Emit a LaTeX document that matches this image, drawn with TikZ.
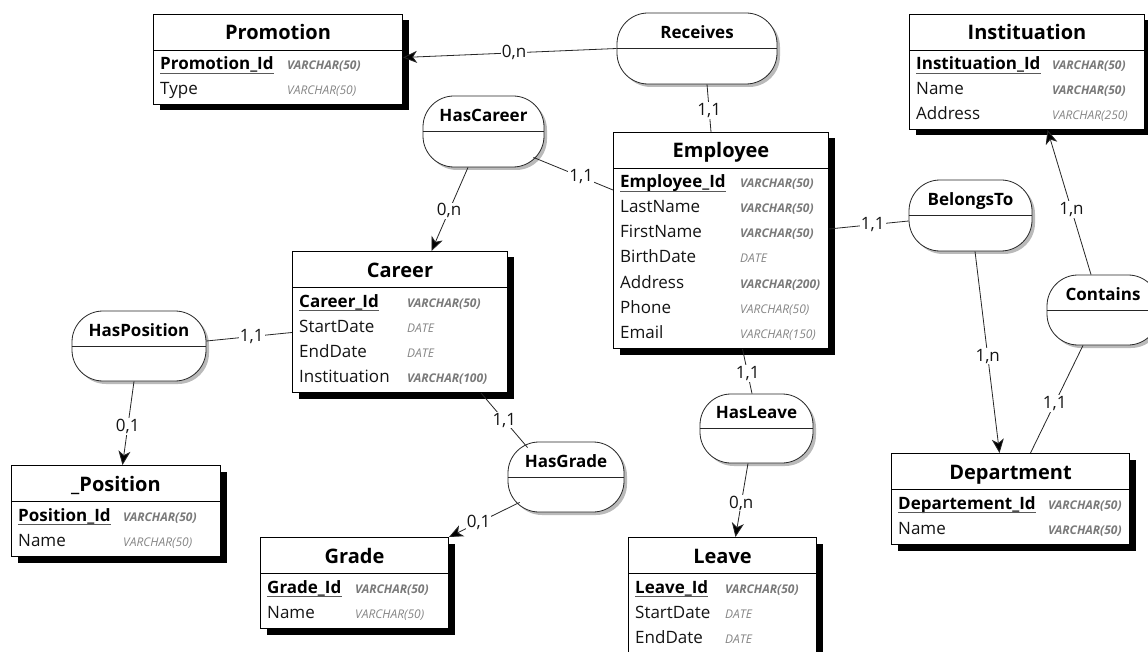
\documentclass[tikz,border=0pt]{standalone}
\usepackage{fontspec}
\setmainfont{Open Sans}
\usetikzlibrary{shadows,arrows.meta,calc}

\tikzset{
  entity/.style={draw=black, line width=1pt, fill=white, inner sep=0pt,
    drop shadow={shadow xshift=6pt, shadow yshift=-6pt, fill=black, opacity=1}},
  relation/.style={draw=black!85, line width=0.8pt, fill=white, inner sep=0pt,
    rounded corners=31pt,
    drop shadow={shadow xshift=3pt, shadow yshift=-3pt, fill=black!45, opacity=0.6}},
  rule/.style={draw=black!85, line width=0.8pt},
  etitle/.style={inner sep=0pt, font=\fontsize{20}{22}\selectfont\bfseries, text=black},
  rtitle/.style={inner sep=0pt, font=\fontsize{17}{19}\selectfont\bfseries, text=black},
  attrname/.style={inner sep=0pt, font=\fontsize{17}{19}\selectfont, text=black!92},
  keyname/.style={inner sep=0pt, font=\fontsize{17}{19}\selectfont\bfseries, text=black},
  keyline/.style={draw=black!65, line width=1.8pt},
  typebold/.style={inner sep=0pt, font=\fontsize{12}{14}\selectfont\bfseries\itshape, text=black!52},
  typelight/.style={inner sep=0pt, font=\fontsize{12}{14}\selectfont\itshape, text=black!48},
  link/.style={draw=black!85, line width=0.8pt},
  arr/.style={-{Stealth[length=14pt, width=12pt, inset=4pt, fill=black]}},
  card/.style={fill=white, inner sep=1pt, font=\fontsize{17}{19}\selectfont, text=black!92},
}

% entity box: name, left, top, width, height, title
\newcommand\erentity[6]{%
  \node[entity, minimum width=#4pt, minimum height=#5pt, anchor=north west] (#1) at (#2,#3) {};
  \draw[rule, draw=black] ([yshift=-36pt]#1.north west) -- ([yshift=-36pt]#1.north east);
  \node[etitle, anchor=base] (#1-title) at ([yshift=-26pt]#1.north) {#6};
}
% primary key row: entity, type column offset, name, type
\newcommand\erkey[4]{%
  \node[keyname, anchor=base west] (#1-a1) at ($(#1.north west)+(7,56)$) {#3};
  \draw[keyline] ([yshift=-3.5pt]#1-a1.base west) -- ([yshift=-3.5pt]#1-a1.base east);
  \node[typebold, anchor=base west] (#1-t1) at ($(#1.north west)+(#2,56)$) {#4};
}
% attribute row: entity, row number, type column offset, name, type, type style
\newcommand\erattr[6]{%
  \node[attrname, anchor=base west] (#1-a#2) at ($(#1.north west)+(7,{31+25*#2})$) {#4};
  \node[#6, anchor=base west] (#1-t#2) at ($(#1.north west)+(#3,{31+25*#2})$) {#5};
}
% relationship: name, centre x, centre y, width, height, title
\newcommand\errel[6]{%
  \node[relation, minimum width=#4pt, minimum height=#5pt] (#1) at (#2,#3) {};
  \draw[rule] (#1.west) -- (#1.east);
  \node[rtitle, anchor=base] (#1-title) at ([yshift=10pt]#1.center) {#6};
}

\begin{document}
\begin{tikzpicture}[x=1pt, y=-1pt]
\useasboundingbox (0,0) rectangle (1148,652);
\clip (0,0) rectangle (1148,652);
\fill[white] (0,0) rectangle (1148,652);

% ---------- entities ----------
\erentity{promotion}{153}{14}{249}{90}{Promotion}
\erkey{promotion}{134}{Promotion\_Id}{VARCHAR(50)}
\erattr{promotion}{2}{134}{Type}{VARCHAR(50)}{typelight}

\erentity{employee}{613}{132}{215}{216}{Employee}
\erkey{employee}{127}{Employee\_Id}{VARCHAR(50)}
\erattr{employee}{2}{127}{LastName}{VARCHAR(50)}{typebold}
\erattr{employee}{3}{127}{FirstName}{VARCHAR(50)}{typebold}
\erattr{employee}{4}{127}{BirthDate}{DATE}{typelight}
\erattr{employee}{5}{127}{Address}{VARCHAR(200)}{typebold}
\erattr{employee}{6}{127}{Phone}{VARCHAR(50)}{typelight}
\erattr{employee}{7}{127}{Email}{VARCHAR(150)}{typelight}

\erentity{institution}{909}{14}{235}{115}{Instituation}
\erkey{institution}{143}{Instituation\_Id}{VARCHAR(50)}
\erattr{institution}{2}{143}{Name}{VARCHAR(50)}{typebold}
\erattr{institution}{3}{143}{Address}{VARCHAR(250)}{typelight}

\erentity{career}{292}{251}{215}{141}{Career}
\erkey{career}{115}{Career\_Id}{VARCHAR(50)}
\erattr{career}{2}{115}{StartDate}{DATE}{typelight}
\erattr{career}{3}{115}{EndDate}{DATE}{typelight}
\erattr{career}{4}{115}{Instituation}{VARCHAR(100)}{typebold}

\erentity{department}{891}{453}{238}{91}{Department}
\erkey{department}{157}{Departement\_Id}{VARCHAR(50)}
\erattr{department}{2}{157}{Name}{VARCHAR(50)}{typebold}

\erentity{position}{11}{465}{209}{91}{\_Position}
\erkey{position}{112}{Position\_Id}{VARCHAR(50)}
\erattr{position}{2}{112}{Name}{VARCHAR(50)}{typelight}

\erentity{grade}{260}{537}{188}{91}{Grade}
\erkey{grade}{95}{Grade\_Id}{VARCHAR(50)}
\erattr{grade}{2}{95}{Name}{VARCHAR(50)}{typelight}

\erentity{leave}{628}{537}{188}{135}{Leave}
\erkey{leave}{97}{Leave\_Id}{VARCHAR(50)}
\erattr{leave}{2}{97}{StartDate}{DATE}{typelight}
\erattr{leave}{3}{97}{EndDate}{DATE}{typelight}

% ---------- relationships ----------
\errel{receives}{697}{48.5}{160}{71}{Receives}
\errel{hascareer}{483.5}{131.5}{121}{71}{HasCareer}
\errel{hasposition}{139}{346}{134}{70}{HasPosition}
\errel{hasgrade}{566}{477}{116}{70}{HasGrade}
\errel{hasleave}{756.5}{428.5}{113}{69}{HasLeave}
\errel{belongsto}{970.5}{215.5}{123}{71}{BelongsTo}
\errel{contains}{1103}{310}{112}{70}{Contains}

% ---------- connectors ----------
\draw[link, arr] (receives.west) -- node[card, pos=0.48] (c-rec-pro) {0,n} ([yshift=2pt]promotion.east);
\draw[link] ([xshift=10pt]receives.south) -- node[card, pos=0.55] (c-rec-emp) {1,1} ([xshift=-10pt]employee.north);
\draw[link] ([xshift=-11pt, yshift=10pt]hascareer.south east) -- node[card, pos=0.6] (c-hc-emp) {1,1} ([yshift=-58pt]employee.north west);
\draw[link, arr] ([xshift=-15.5pt]hascareer.south) -- node[card, pos=0.52] (c-hc-car) {0,n} ([xshift=31.5pt]career.north);
\draw[link] ([yshift=5pt]hasposition.east) -- node[card, pos=0.53] (c-hp-car) {1,1} ([yshift=-10.5pt]career.west);
\draw[link, arr] ([xshift=-5pt]hasposition.south) -- node[card, pos=0.54] (c-hp-pos) {0,1} ([xshift=6.5pt]position.north);
\draw[link] ([xshift=-27pt]career.south east) -- node[card, pos=0.5] (c-car-hg) {1,1} ([xshift=20pt, yshift=-6pt]hasgrade.north west);
\draw[link, arr] ([xshift=12pt, yshift=10pt]hasgrade.south west) -- node[card, pos=0.58] (c-hg-gr) {0,1} (grade.north east);
\draw[link] ([xshift=21.5pt]employee.south) -- node[card, pos=0.55] (c-emp-hl) {1,1} ([xshift=-4.5pt]hasleave.north);
\draw[link, arr] ([xshift=-8.5pt]hasleave.south) -- node[card, pos=0.54] (c-hl-lv) {0,n} ([xshift=13pt]leave.north);
\draw[link] ([yshift=-97pt]employee.north east) -- node[card, pos=0.55] (c-emp-bt) {1,1} ([yshift=-5.5pt]belongsto.west);
\draw[link, arr] ([xshift=4.5pt]belongsto.south) -- node[card, pos=0.52] (c-bt-dep) {1,n} ([xshift=-11pt]department.north);
\draw[link, arr] ([xshift=-12pt]contains.north) -- node[card, pos=0.45] (c-con-ins) {1,n} ([xshift=20.5pt]institution.south);
\draw[link] ([xshift=-20pt]contains.south) -- node[card, pos=0.54] (c-con-dep) {1,1} ([xshift=20pt]department.north);
\end{tikzpicture}
\end{document}
